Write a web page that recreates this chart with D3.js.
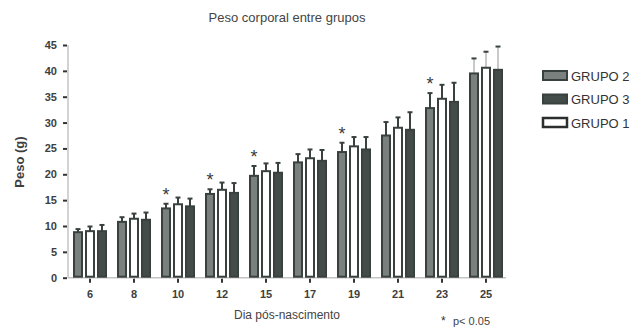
<!DOCTYPE html>
<html>
<head>
<meta charset="utf-8">
<script src="https://cdn.jsdelivr.net/npm/d3@7"></script>
<style>
  html, body { margin: 0; padding: 0; background: #fff; }
  svg { display: block; font-family: Arial, "Liberation Sans", sans-serif; }
</style>
</head>
<body>
<svg id="chart" width="632" height="328"></svg>
<script>
// Postnatal days
const days = ["6", "8", "10", "12", "15", "17", "19", "21", "23", "25"];

// Mean body weight (g) per group
const grupo2 = [8.8, 10.8, 13.4, 16.2, 19.7, 22.3, 24.3, 27.5, 32.8, 39.5];
const grupo1 = [9.0, 11.4, 14.2, 17.0, 20.6, 23.1, 25.4, 29.0, 34.6, 40.6];
const grupo3 = [9.0, 11.2, 13.8, 16.4, 20.3, 22.6, 24.8, 28.6, 34.0, 40.2];

// Error (upper bar only)
const grupo2Err = [0.6, 0.9, 0.9, 0.9, 1.9, 1.6, 1.8, 2.6, 2.9, 2.9];
const grupo1Err = [0.9, 1.0, 1.3, 1.4, 1.5, 1.7, 1.8, 2.0, 2.7, 3.1];
const grupo3Err = [1.2, 1.4, 1.5, 1.9, 1.9, 2.1, 2.4, 3.4, 3.7, 4.5];

// Days with p < 0.05 (marked over GRUPO 2)
const significant = ["10", "12", "15", "19", "23"];

const yTicks = [0, 5, 10, 15, 20, 25, 30, 35, 40, 45];

const series = [
  { name: "GRUPO 2", values: grupo2, err: grupo2Err, fill: "#7a807e" },
  { name: "GRUPO 1", values: grupo1, err: grupo1Err, fill: "#ffffff" },
  { name: "GRUPO 3", values: grupo3, err: grupo3Err, fill: "#444c4a" }
];
const legendOrder = ["GRUPO 2", "GRUPO 3", "GRUPO 1"];

const svg = d3.select("#chart");
const stroke = "#39413f";
const textColor = "#3e3e3e";

const x = d3.scaleBand().domain(days).range([68, 508]);
const y = d3.scaleLinear().domain([0, 45]).range([277.7, 45]);
const offset = d3.scaleBand().domain(series.map(s => s.name))
  .range([-18, 18]);
const barW = 8;

// Title
svg.append("text")
  .attr("x", 287).attr("y", 22)
  .attr("text-anchor", "middle")
  .attr("font-size", 13).attr("fill", "#444")
  .text("Peso corporal entre grupos");

// Y axis
const yAxis = svg.append("g").attr("transform", "translate(68,0)")
  .call(d3.axisLeft(y).tickValues(yTicks).tickSize(5).tickPadding(6));
yAxis.select(".domain").attr("stroke", "#c4c4c4").attr("stroke-width", 1.5)
  .attr("d", `M0,${y(45)}V${y(0)}`);
yAxis.selectAll(".tick line").attr("stroke", "#333").attr("stroke-width", 2)
  .attr("x1", -1);
yAxis.selectAll(".tick text").attr("font-size", 11).attr("font-weight", "bold")
  .attr("fill", textColor).attr("font-family", "Arial, 'Liberation Sans', sans-serif");

// X axis
const xAxis = svg.append("g").attr("transform", `translate(0,${y(0)})`)
  .call(d3.axisBottom(x).tickSize(5).tickPadding(8));
xAxis.select(".domain").attr("stroke", "#c4c4c4").attr("stroke-width", 1.5)
  .attr("d", `M68,0H506`);
xAxis.selectAll(".tick line").attr("stroke", "#333").attr("stroke-width", 2)
  .attr("y1", 1);
xAxis.selectAll(".tick text").attr("font-size", 11).attr("font-weight", "bold")
  .attr("fill", textColor).attr("font-family", "Arial, 'Liberation Sans', sans-serif");

// Axis titles
svg.append("text")
  .attr("transform", `translate(24,${162}) rotate(-90)`)
  .attr("text-anchor", "middle")
  .attr("font-size", 13).attr("font-weight", "bold").attr("fill", textColor)
  .text("Peso (g)");

svg.append("text")
  .attr("x", 287).attr("y", 319)
  .attr("text-anchor", "middle")
  .attr("font-size", 12).attr("fill", "#444")
  .text("Dia pós-nascimento");

// Bars with error bars
series.forEach(s => {
  const g = svg.append("g");
  const cx = d => x(d) + x.bandwidth() / 2 + offset(s.name) + offset.bandwidth() / 2;
  const lastDay = days[days.length - 1];

  // error stems
  g.selectAll("line.stem").data(days).join("line")
    .attr("class", "stem")
    .attr("x1", d => cx(d)).attr("x2", d => cx(d))
    .attr("y1", (d, i) => y(s.values[i]))
    .attr("y2", (d, i) => y(s.values[i] + s.err[i]))
    .attr("stroke", d => d === lastDay ? "#c9c9c9" : stroke)
    .attr("stroke-width", 2);
  // caps
  g.selectAll("line.cap").data(days).join("line")
    .attr("class", "cap")
    .attr("x1", d => cx(d) - 2.5).attr("x2", d => cx(d) + 2.5)
    .attr("y1", (d, i) => y(s.values[i] + s.err[i]))
    .attr("y2", (d, i) => y(s.values[i] + s.err[i]))
    .attr("stroke", stroke).attr("stroke-width", 2);
  // bars
  g.selectAll("rect").data(days).join("rect")
    .attr("x", d => cx(d) - barW / 2)
    .attr("y", (d, i) => y(s.values[i]))
    .attr("width", barW)
    .attr("height", (d, i) => y(0) - y(s.values[i]) - 1)
    .attr("fill", s.fill)
    .attr("stroke", stroke).attr("stroke-width", 2);
});

// Significance marks over GRUPO 2
const s2 = series[0];
svg.append("g").selectAll("text").data(significant).join("text")
  .attr("x", d => x(d) + x.bandwidth() / 2 + offset(s2.name) + offset.bandwidth() / 2)
  .attr("y", d => {
    const i = days.indexOf(d);
    return y(s2.values[i] + s2.err[i]) - 3;
  })
  .attr("text-anchor", "middle")
  .attr("font-size", 18).attr("fill", "#3a3a3a")
  .text("*");

// Legend
const legend = svg.append("g");
legendOrder.forEach((name, k) => {
  const s = series.find(t => t.name === name);
  const yy = 71 + k * 23.5;
  legend.append("rect")
    .attr("x", 543).attr("y", yy)
    .attr("width", 24).attr("height", 9)
    .attr("fill", s.fill).attr("stroke", name === "GRUPO 1" ? "#2a2f2e" : stroke)
    .attr("stroke-width", name === "GRUPO 1" ? 2.5 : 2);
  legend.append("text")
    .attr("x", 571).attr("y", yy + 9.5)
    .attr("font-size", 13).attr("fill", "#333")
    .text(name);
});

// Footnote
svg.append("text").attr("x", 441).attr("y", 325)
  .attr("font-size", 12).attr("fill", "#333").text("*");
svg.append("text").attr("x", 453).attr("y", 324.5)
  .attr("font-size", 11).attr("fill", "#444").text("p< 0.05");
</script>
</body>
</html>
